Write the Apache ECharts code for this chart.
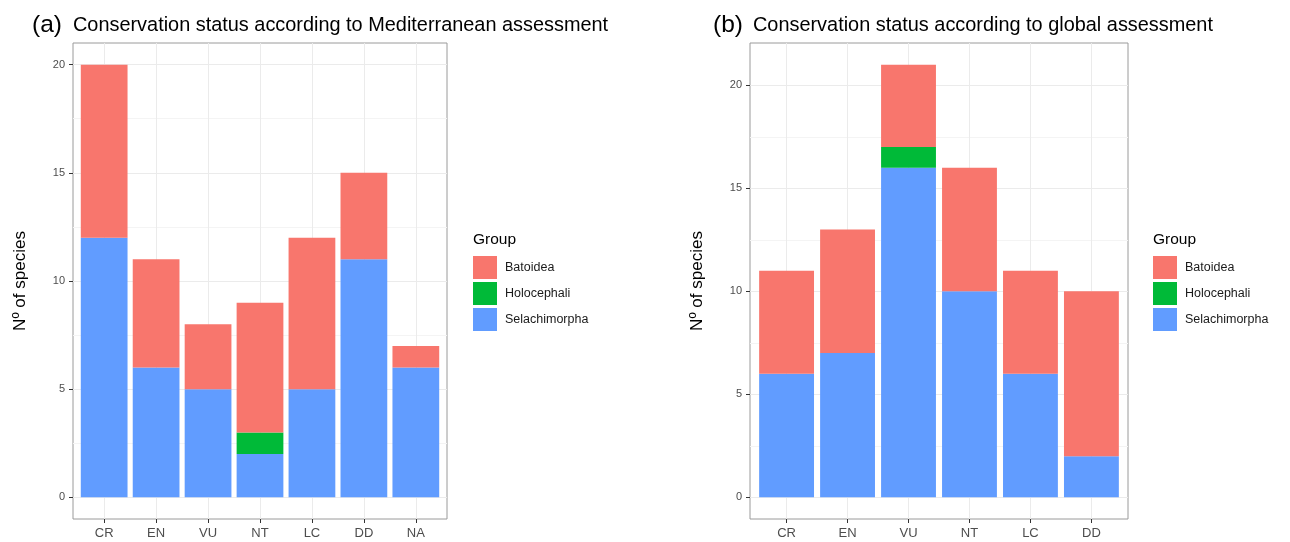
<!DOCTYPE html>
<html>
<head>
<meta charset="utf-8">
<script src="https://cdn.jsdelivr.net/npm/echarts@6/dist/echarts.min.js"></script>
<style>
  html, body { margin: 0; padding: 0; background: #fff; }
  #chart { width: 1290px; height: 542px; }
</style>
</head>
<body>
<div id="chart"></div>
<script>
// data
const groups = ['Batoidea', 'Holocephali', 'Selachimorpha']
const colors = { Batoidea: '#F8766D', Holocephali: '#00BA38', Selachimorpha: '#619CFF' }

const medCats = ['CR', 'EN', 'VU', 'NT', 'LC', 'DD', 'NA']
const medSelachimorpha = [12, 6, 5, 2, 5, 11, 6]
const medHolocephali = [0, 0, 0, 1, 0, 0, 0]
const medBatoidea = [8, 5, 3, 6, 7, 4, 1]

const gloCats = ['CR', 'EN', 'VU', 'NT', 'LC', 'DD']
const gloSelachimorpha = [6, 7, 16, 10, 6, 2]
const gloHolocephali = [0, 0, 1, 0, 0, 0]
const gloBatoidea = [5, 6, 4, 6, 5, 8]

const yTicks = [0, 5, 10, 15, 20]
const yMinor = [2.5, 7.5, 12.5, 17.5]

const font = 'Liberation Sans, Arial, Helvetica, sans-serif'

const chart = echarts.init(document.getElementById('chart'), null, { renderer: 'canvas' })

const panels = [
  { cats: medCats, sel: medSelachimorpha, holo: medHolocephali, bat: medBatoidea, left: 73, width: 374, yMax: 20 },
  { cats: gloCats, sel: gloSelachimorpha, holo: gloHolocephali, bat: gloBatoidea, left: 750, width: 378, yMax: 21 }
]

const grid = []
const xAxis = []
const yAxis = []
const series = []

panels.forEach((p, k) => {
  const pad = p.yMax * 0.05 // ggplot default expansion
  grid.push({
    left: p.left, top: 43, width: p.width, height: 476,
    show: true, borderColor: '#9a9a9a', borderWidth: 1, backgroundColor: '#fff'
  })
  const idx = p.cats.map((c, i) => i)
  xAxis.push({
    type: 'value', gridIndex: k, min: -0.6, max: p.cats.length - 0.4,
    axisLine: { show: false, onZero: false },
    axisTick: { show: true, customValues: idx, length: 4, lineStyle: { color: '#333' } },
    axisLabel: {
      customValues: idx, margin: 8, color: '#4d4d4d', fontSize: 13, fontFamily: font,
      formatter: v => p.cats[Math.round(v)]
    },
    splitLine: { show: false }
  })
  yAxis.push({
    type: 'value', gridIndex: k, min: -pad, max: p.yMax + pad,
    name: 'Nº of species', nameLocation: 'middle', nameGap: 44, nameRotate: 90,
    nameTextStyle: { fontSize: 17, color: '#000', fontFamily: font },
    axisLine: { show: false, onZero: false },
    axisTick: { show: true, customValues: yTicks, length: 4, lineStyle: { color: '#333' } },
    axisLabel: { customValues: yTicks, margin: 8, color: '#4d4d4d', fontSize: 11, fontFamily: font },
    splitLine: { show: false }
  })

  const gridLines = []
  yTicks.forEach(v => gridLines.push({ yAxis: v, lineStyle: { color: '#ebebeb', width: 1, type: 'solid' } }))
  yMinor.forEach(v => gridLines.push({ yAxis: v, lineStyle: { color: '#f4f4f4', width: 1, type: 'solid' } }))
  idx.forEach(v => gridLines.push({ xAxis: v, lineStyle: { color: '#ebebeb', width: 1, type: 'solid' } }))

  const stackData = { Selachimorpha: p.sel, Holocephali: p.holo, Batoidea: p.bat }
  ;['Selachimorpha', 'Holocephali', 'Batoidea'].forEach((g, j) => {
    // value first so that it is the dimension that gets stacked
    const s = {
      name: g, type: 'bar', stack: 'total' + k, xAxisIndex: k, yAxisIndex: k,
      barWidth: '90%', z: 3,
      itemStyle: { color: colors[g] },
      encode: { x: 1, y: 0 },
      data: stackData[g].map((v, i) => [v, i]),
      animation: false
    }
    if (j === 0) {
      s.markLine = {
        silent: true, symbol: 'none', z: 1, animation: false,
        label: { show: false }, emphasis: { disabled: true },
        data: gridLines
      }
    }
    series.push(s)
  })
})

const legendCommon = {
  orient: 'vertical', icon: 'rect', itemWidth: 24, itemHeight: 23, itemGap: 3,
  selectedMode: false, data: groups, padding: 0,
  textStyle: { fontSize: 12.5, color: '#1a1a1a', fontFamily: font, padding: [0, 0, 0, 3] }
}

const titleText = (text, left, top, size) => ({
  text: text, left: left, top: top, padding: 0,
  textStyle: { fontSize: size, fontWeight: 'normal', color: '#000', fontFamily: font }
})

chart.setOption({
  backgroundColor: '#fff',
  animation: false,
  color: groups.map(g => colors[g]),
  title: [
    titleText('(a)', 32, 13, 24.5),
    titleText('Conservation status according to Mediterranean assessment', 73, 16, 19.9),
    titleText('(b)', 713, 13, 24.5),
    titleText('Conservation status according to global assessment', 753, 16, 19.9),
    titleText('Group', 473, 232, 15.5),
    titleText('Group', 1153, 232, 15.5)
  ],
  legend: [
    Object.assign({ left: 473, top: 256 }, legendCommon),
    Object.assign({ left: 1153, top: 256 }, legendCommon)
  ],
  grid: grid,
  xAxis: xAxis,
  yAxis: yAxis,
  series: series
})
</script>
</body>
</html>
